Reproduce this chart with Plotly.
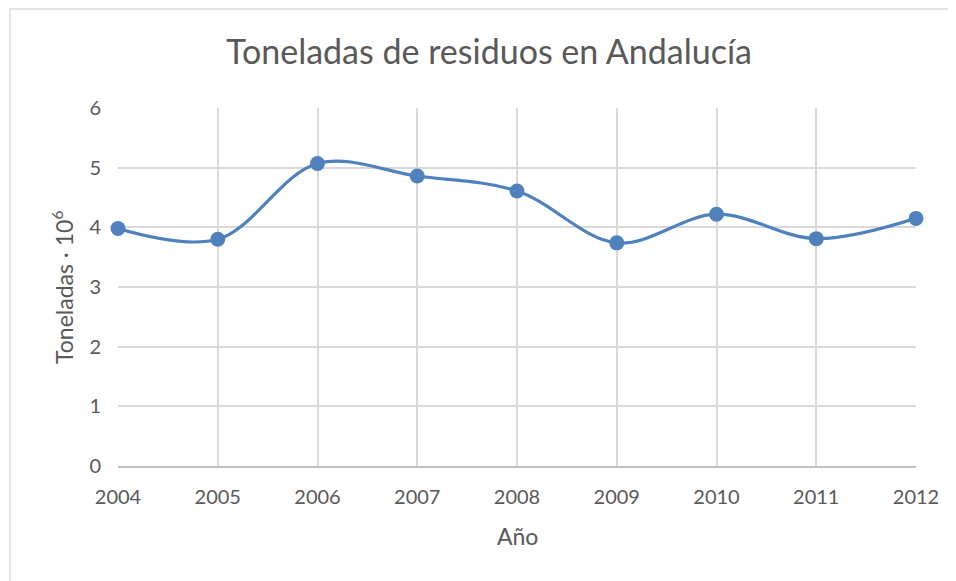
import plotly.graph_objects as go

years = [2004, 2005, 2006, 2007, 2008, 2009, 2010, 2011, 2012]
toneladas = [3.98, 3.80, 5.07, 4.86, 4.61, 3.74, 4.22, 3.81, 4.15]
y_ticks = [0, 1, 2, 3, 4, 5, 6]

# page has 8px body margin -> figure coords = page coords - 8
OFF = 8
W, H = 956 - OFF, 581 - OFF
L, R, T, B = 118 - OFF, 916 - OFF, 108 - OFF, 466 - OFF
pw, ph = R - L, B - T

font_fam = "Lato, 'Open Sans', sans-serif"
txt = "#595959"

fig = go.Figure()
fig.add_trace(go.Scatter(
    x=years, y=toneladas, mode="lines+markers",
    line=dict(color="#4f81bd", width=3.2, shape="spline", smoothing=1.0),
    marker=dict(color="#4f81bd", size=15),
    cliponaxis=False,
    showlegend=False, hoverinfo="skip",
))

fig.update_layout(
    width=W, height=H,
    margin=dict(l=L, r=W - R, t=T, b=H - B),
    paper_bgcolor="white", plot_bgcolor="white",
    font=dict(family=font_fam, color=txt, size=20),
    title=dict(text="Toneladas de residuos en Andalucía", x=(489 - OFF) / W, xanchor="center",
               y=1 - (52 - OFF) / H, yanchor="middle", font=dict(size=34, color=txt, family=font_fam)),
    xaxis=dict(range=[2004, 2012], tickvals=years, ticktext=[str(y) for y in years],
               showgrid=True, gridcolor="#d9d9d9", gridwidth=1.5,
               showline=True, linecolor="#bfbfbf", linewidth=1.5,
               zeroline=False, ticks="", ticklabelstandoff=12,
               tickfont=dict(size=20, color=txt)),
    yaxis=dict(range=[0, 6], tickvals=y_ticks, showgrid=True, gridcolor="#d9d9d9", gridwidth=1.5,
               zeroline=False, ticks="", showline=False, ticklabelstandoff=16,
               tickfont=dict(size=20, color=txt)),
)

# axis titles
fig.add_annotation(text="Año", xref="paper", yref="paper", x=0.5, y=(B - (536 - OFF)) / ph,
                   xanchor="center", yanchor="middle", showarrow=False,
                   font=dict(size=23, color=txt, family=font_fam))
fig.add_annotation(text="Toneladas · 10<sup>6</sup>", xref="paper", yref="paper",
                   x=((62 - OFF) - L) / pw, y=0.5, textangle=-90,
                   xanchor="center", yanchor="middle", showarrow=False,
                   font=dict(size=23, color=txt, family=font_fam))

# chart area border
fig.add_shape(type="rect", xref="paper", yref="paper",
              x0=(2 - L) / pw, x1=(W + 5 - L) / pw,
              y0=(B - (H + 5)) / ph, y1=(B - 1) / ph,
              line=dict(color="#d9d9d9", width=1.3), fillcolor="rgba(0,0,0,0)", layer="below")

fig.write_html("out.html")
